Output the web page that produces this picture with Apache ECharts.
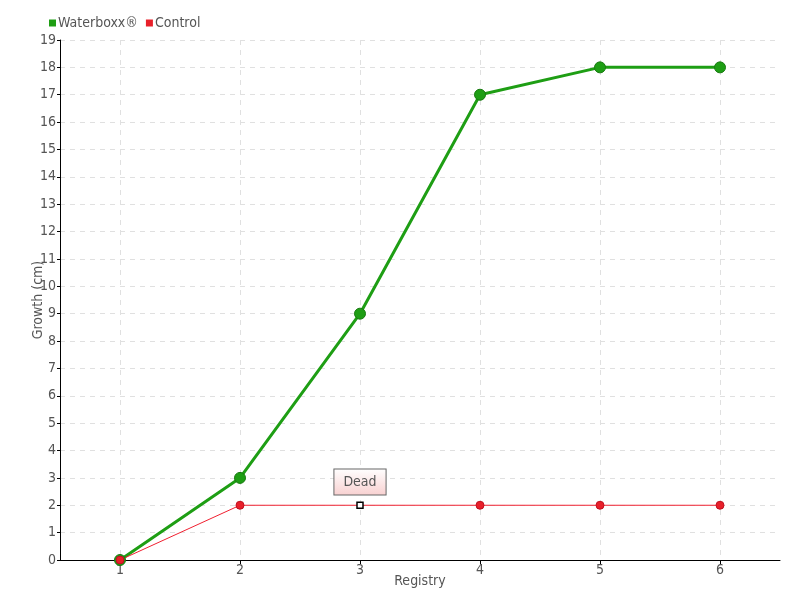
<!DOCTYPE html>
<html><head><meta charset="utf-8">
<script src="https://cdn.jsdelivr.net/npm/echarts@6/dist/echarts.min.js"></script>
<style>html,body{margin:0;padding:0;background:#fff}#c{width:800px;height:600px}</style>
</head><body><div id="c"></div>
<script>
const categories = ['1','2','3','4','5','6'];
const waterboxx = [0, 3, 9, 17, 18, 18];
const control = [0, 2, 2, 2, 2, 2];
const deadIndex = 2;
const deadLabel = 'Dead';

const FONT = '"DejaVu Sans Condensed", "DejaVu Sans", sans-serif';
const chart = echarts.init(document.getElementById('c'), null, {renderer:'canvas'});
const controlData = control.map((v,i) => i === deadIndex ? {
  value: v, symbol: 'rect', symbolSize: 6,
  itemStyle: {color:'#fff', borderColor:'#000', borderWidth:1.5},
  label: {show:true, formatter: deadLabel, position:'top', distance:7,
    color:'#555', fontSize:14, fontFamily:FONT,
    padding:[6,9,5,9], borderColor:'#666', borderWidth:1,
    backgroundColor: new echarts.graphic.LinearGradient(0,0,0,1,[{offset:0,color:'#fff'},{offset:1,color:'#f8d0d0'}])}
} : v);
chart.setOption({
  animation:false,
  textStyle:{fontFamily:FONT},
  legend:{left:44, top:11, itemWidth:7, itemHeight:7, itemGap:8, icon:'rect',
    itemStyle:{borderWidth:0},
    textStyle:{color:'#555', fontSize:14, fontFamily:FONT, padding:[0,0,0,-3]},
    data:[{name:'Waterboxx®'},{name:'Control'}]},
  grid:{left:60, right:20, top:40, bottom:40, outerBoundsMode:'none', containLabel:false},
  xAxis:{type:'category', data:categories, boundaryGap:true,
    name:'Registry', nameLocation:'middle', nameGap:14, nameMoveOverlap:false,
    nameTextStyle:{color:'#555', fontSize:14, fontFamily:FONT},
    axisLine:{lineStyle:{color:'#000', width:1}},
    axisTick:{show:true, alignWithLabel:true, length:4, lineStyle:{color:'#000'}},
    axisLabel:{color:'#555', fontSize:14, fontFamily:FONT, margin:3},
    splitLine:{show:true, alignWithLabel:true, lineStyle:{color:'#e0e0e0', type:[5,5]}}},
  yAxis:{type:'value', min:0, max:19, interval:1,
    name:'Growth (cm)', nameLocation:'middle', nameGap:15, nameMoveOverlap:false,
    nameTextStyle:{color:'#555', fontSize:14, fontFamily:FONT},
    axisLine:{show:true, lineStyle:{color:'#000', width:1}},
    axisTick:{show:true, length:3, lineStyle:{color:'#000'}},
    axisLabel:{color:'#555', fontSize:14, fontFamily:FONT, margin:4},
    splitLine:{show:true, lineStyle:{color:'#e0e0e0', type:[5,5]}}},
  series:[
    {name:'Waterboxx®', type:'line', data:waterboxx, symbol:'circle', symbolSize:11,
      lineStyle:{color:'#1e9e14', width:3}, itemStyle:{color:'#1e9e14', borderColor:'#187a10', borderWidth:1}},
    {name:'Control', type:'line', data:controlData, symbol:'circle', symbolSize:8,
      lineStyle:{color:'#f02030', width:1}, itemStyle:{color:'#e8202a', borderColor:'#c01020', borderWidth:1}}
  ]
});
</script></body></html>
